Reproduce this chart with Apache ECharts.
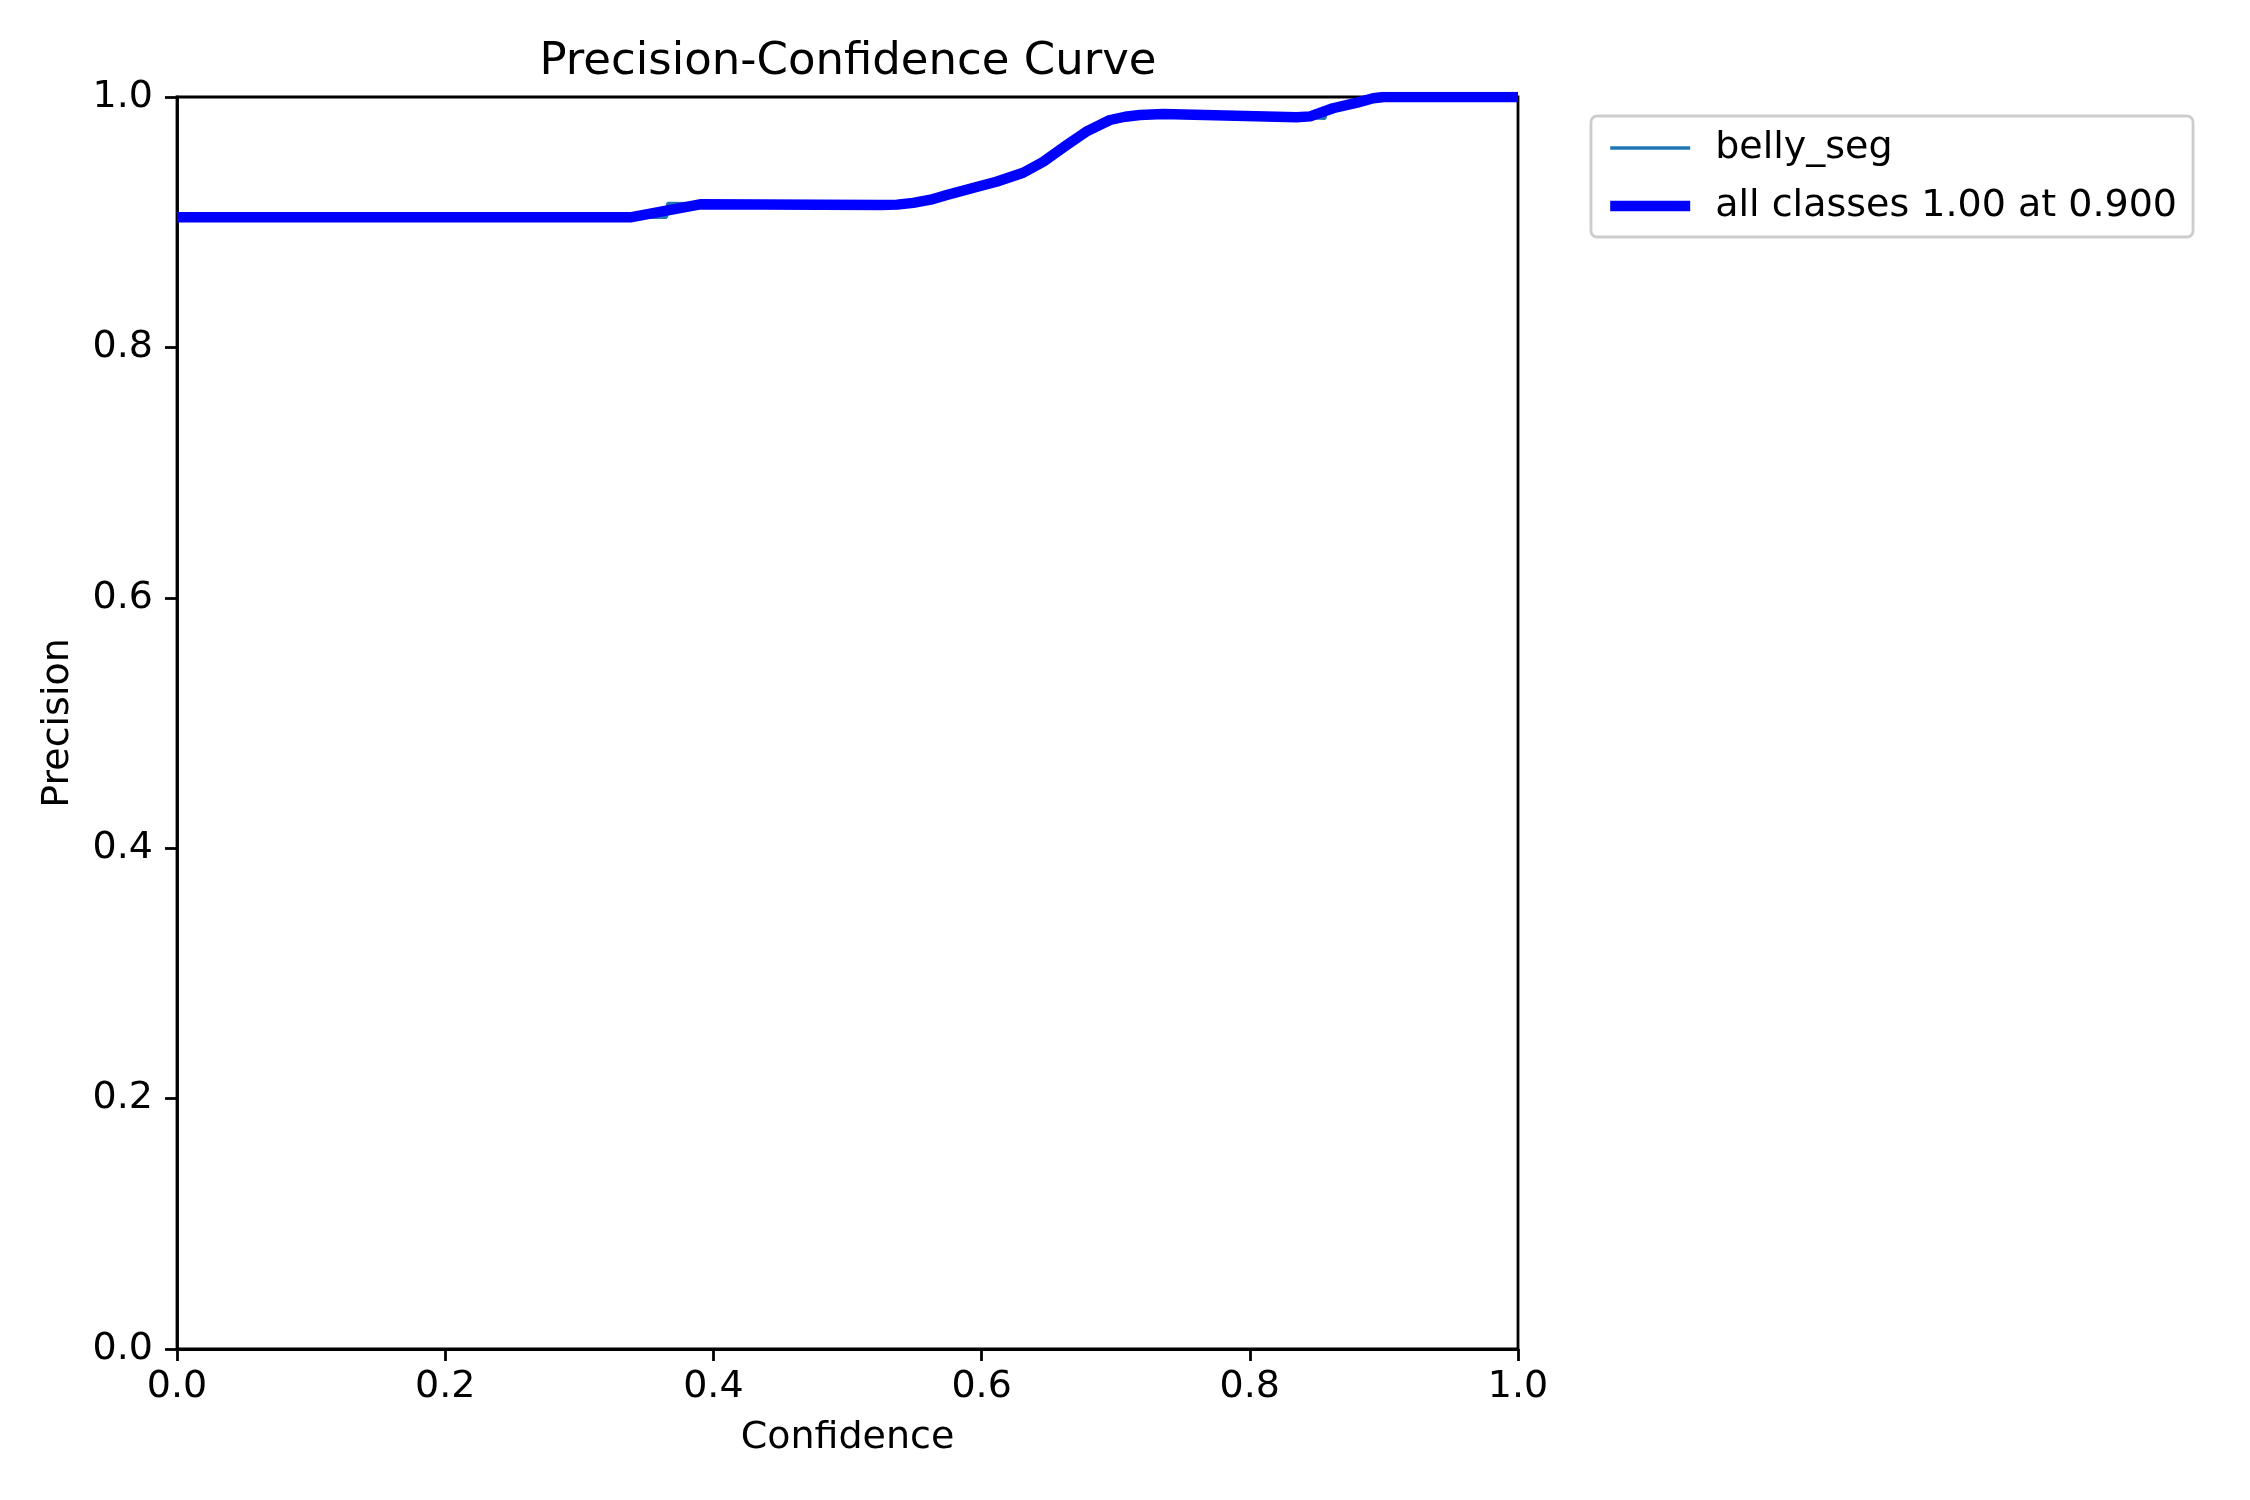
<!DOCTYPE html>
<html>
<head>
<meta charset="utf-8">
<title>Precision-Confidence Curve</title>
<script src="https://cdn.jsdelivr.net/npm/echarts@6/dist/echarts.min.js"></script>
<style>
  html, body { margin: 0; padding: 0; background: #fff; }
  #chart { width: 2250px; height: 1500px; }
</style>
</head>
<body>
<div id="chart"></div>
<script>
// per-class curve (raw, thin line)
var bellyConf = [0, 0.365, 0.366, 0.525, 0.549, 0.574, 0.599, 0.611, 0.631, 0.633, 0.646, 0.6635, 0.672, 0.678, 0.6957, 0.718, 0.7355, 0.835, 0.856, 0.857, 0.89, 0.9, 1.0];
var bellyPrec = [0.904, 0.904, 0.915, 0.9137, 0.9155, 0.9217, 0.9289, 0.9323, 0.937, 0.9405, 0.9483, 0.9617, 0.970, 0.9723, 0.9816, 0.9856, 0.9864, 0.9838, 0.983, 0.99, 0.997, 1.0, 1.0];

// all classes (smoothed, thick line)
var allConf = [0, 0.339, 0.39, 0.525, 0.537, 0.549, 0.562, 0.574, 0.599, 0.611, 0.631, 0.646, 0.6635, 0.678, 0.6957, 0.707, 0.718, 0.7355, 0.835, 0.845, 0.862, 0.88, 0.892, 0.9, 1.0];
var allPrec = [0.904, 0.904, 0.9143, 0.9137, 0.914, 0.9155, 0.918, 0.9217, 0.9289, 0.9323, 0.9395, 0.9483, 0.9617, 0.9723, 0.9816, 0.9842, 0.9856, 0.9864, 0.9838, 0.9845, 0.991, 0.9955, 0.999, 1.0, 1.0];

var xTicks = [0, 0.2, 0.4, 0.6, 0.8, 1.0];
var yTicks = [0, 0.2, 0.4, 0.6, 0.8, 1.0];

function pairs(xs, ys) {
  return xs.map(function (x, i) { return [x, ys[i]]; });
}

var font = 'DejaVu Sans';
var fs = 38;
var chart = echarts.init(document.getElementById('chart'));

chart.setOption({
  animation: false,
  backgroundColor: '#fff',
  title: {
    text: 'Precision-Confidence Curve',
    left: 843,
    top: 35,
    textAlign: 'center',
    textStyle: { fontFamily: font, fontSize: 45, fontWeight: 'normal', color: '#000' }
  },
  grid: {
    left: 177, top: 97, width: 1341, height: 1252,
    show: true, borderColor: '#000', borderWidth: 2.8, backgroundColor: 'transparent'
  },
  legend: {
    orient: 'vertical',
    left: 1591,
    top: 116,
    padding: [13, 16, 12, 14],
    itemGap: 20,
    itemWidth: 80,
    itemHeight: 1,
    backgroundColor: '#fff',
    borderColor: '#cccccc',
    borderWidth: 2.8,
    borderRadius: 6,
    textStyle: { fontFamily: font, fontSize: fs, color: '#000', padding: [0, 0, 0, 20] },
    data: [
      { name: 'belly_seg', lineStyle: { width: 3.5, color: '#1f77b4' } },
      { name: 'all classes 1.00 at 0.900', lineStyle: { width: 10.4, color: '#0000ff' } }
    ]
  },
  xAxis: {
    type: 'value',
    min: 0, max: 1, interval: 0.2,
    name: 'Confidence',
    nameLocation: 'middle',
    nameGap: 70,
    nameTextStyle: { fontFamily: font, fontSize: fs, color: '#000' },
    axisLine: { show: true, lineStyle: { color: '#000', width: 2.8 } },
    axisTick: { show: true, length: 12, lineStyle: { color: '#000', width: 2.8 } },
    axisLabel: {
      margin: 19, fontFamily: font, fontSize: fs, color: '#000',
      formatter: function (v) { return v.toFixed(1); }
    },
    splitLine: { show: false }
  },
  yAxis: {
    type: 'value',
    min: 0, max: 1, interval: 0.2,
    name: 'Precision',
    nameLocation: 'middle',
    nameGap: 100,
    nameTextStyle: { fontFamily: font, fontSize: fs, color: '#000' },
    axisLine: { show: true, lineStyle: { color: '#000', width: 2.8 } },
    axisTick: { show: true, length: 12, lineStyle: { color: '#000', width: 2.8 } },
    axisLabel: {
      margin: 24, fontFamily: font, fontSize: fs, color: '#000',
      formatter: function (v) { return v.toFixed(1); }
    },
    splitLine: { show: false }
  },
  series: [
    {
      name: 'belly_seg',
      type: 'line',
      symbol: 'none',
      z: 2,
      lineStyle: { color: '#1f77b4', width: 3.5 },
      itemStyle: { color: '#1f77b4' },
      data: pairs(bellyConf, bellyPrec)
    },
    {
      name: 'all classes 1.00 at 0.900',
      type: 'line',
      symbol: 'none',
      z: 3,
      lineStyle: { color: '#0000ff', width: 10.4, join: 'round' },
      itemStyle: { color: '#0000ff' },
      data: pairs(allConf, allPrec)
    }
  ]
});
</script>
</body>
</html>
